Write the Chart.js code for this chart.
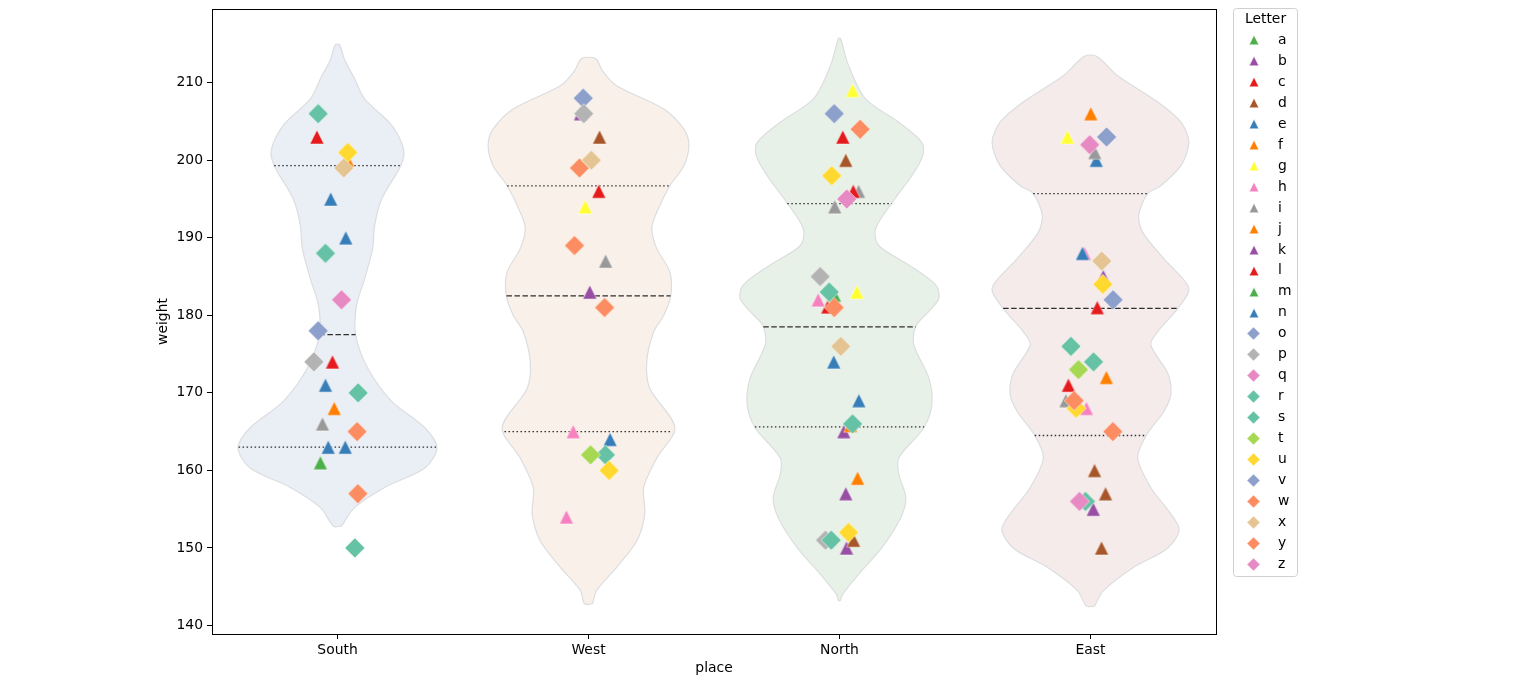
<!DOCTYPE html>
<html>
<head>
<meta charset="utf-8">
<script src="https://cdn.jsdelivr.net/npm/chart.js@4.4.0/dist/chart.umd.min.js"></script>
<style>
  html, body { margin: 0; padding: 0; background: #fff; }
</style>
</head>
<body>
<canvas id="violinChart" width="1531" height="677"></canvas>
<script>
const places = ['South', 'West', 'North', 'East'];
const letters = 'abcdefghijklmnopqrstuvwxyz'.split('');
const yTicks = [140, 150, 160, 170, 180, 190, 200, 210];

// strip points per place: letter, weight, horizontal jitter (category units)
const southLetters = ['r', 'c', 'u', 'f', 'x', 'e', 'n', 's', 'q', 'o', 'p', 'l', 'e', 'r', 'j', 'i', 'w', 'n', 'e', 'a', 'y', 's'];
const southWeights = [206, 203, 201, 200, 199, 195, 190, 188, 182, 178, 174, 174, 171, 170, 168, 166, 165, 163, 163, 161, 157, 150];
const southJitter = [-0.077, -0.082, 0.041, 0.040, 0.025, -0.027, 0.033, -0.048, 0.016, -0.077, -0.094, -0.020, -0.048, 0.082, -0.013, -0.060, 0.078, -0.037, 0.031, -0.068, 0.081, 0.069];

const westLetters = ['o', 'k', 'p', 'd', 'x', 'w', 'c', 'g', 'y', 'i', 'b', 'w', 'h', 'e', 't', 's', 'u', 'h'];
const westWeights = [208, 206, 206, 203, 200, 199, 196, 194, 189, 187, 183, 181, 165, 164, 162, 162, 160, 154];
const westJitter = [-0.021, -0.032, -0.019, 0.044, 0.011, -0.036, 0.041, -0.013, -0.056, 0.068, 0.005, 0.064, -0.061, 0.086, 0.008, 0.067, 0.082, -0.088];

const northLetters = ['g', 'v', 'w', 'c', 'd', 'u', 'i', 'l', 'z', 'i', 'p', 's', 'm', 'g', 'h', 'c', 'y', 'x', 'e', 'n', 'j', 'r', 'b', 'f', 'k', 'u', 'p', 'r', 'd', 'b'];
const northWeights = [209, 206, 204, 203, 200, 198, 196, 196, 195, 194, 185, 183, 182.6, 183, 182, 181.1, 181, 176, 174, 169, 165.8, 166, 165, 159, 157, 152, 151, 151, 151, 150];
const northJitter = [0.052, -0.021, 0.082, 0.013, 0.025, -0.031, 0.076, 0.055, 0.029, -0.019, -0.077, -0.041, -0.020, 0.069, -0.085, -0.047, -0.021, 0.005, -0.023, 0.077, 0.044, 0.052, 0.017, 0.072, 0.025, 0.036, -0.056, -0.033, 0.056, 0.028];

const eastLetters = ['f', 'g', 'v', 'i', 'q', 'e', 'h', 'n', 'x', 'k', 'u', 'o', 'l', 'r', 's', 't', 'j', 'c', 'i', 'u', 'w', 'h', 'y', 'd', 'd', 'z', 's', 'b', 'd'];
const eastWeights = [206, 203, 203, 201, 202, 200, 188, 188, 187, 185, 184, 182, 181, 176, 174, 173, 172, 171, 169, 168, 169, 168, 165, 160, 157, 156, 156, 155, 150];
const eastJitter = [0.001, -0.092, 0.064, 0.017, -0.003, 0.023, -0.024, -0.032, 0.045, 0.051, 0.049, 0.090, 0.027, -0.078, 0.012, -0.048, 0.063, -0.088, -0.098, -0.057, -0.065, -0.016, 0.089, 0.016, 0.060, -0.044, -0.020, 0.011, 0.044];

// violin outlines: weight levels and relative half-width (1 = widest)
const southLevels = [152.8, 155.2, 157.8, 160.3, 162.9, 165.5, 168.9, 173.2, 177.5, 181.3, 184.7, 188.6, 191.6, 195.0, 199.3, 201.3, 204.5, 207.9, 210.5, 213.0, 214.9];
const southDensity = [0.04, 0.17, 0.47, 0.87, 0.99, 0.87, 0.54, 0.30, 0.18, 0.19, 0.27, 0.35, 0.37, 0.44, 0.63, 0.66, 0.54, 0.27, 0.17, 0.07, 0.02];

const westLevels = [142.8, 144.5, 147.5, 150.9, 154.3, 157.8, 161.6, 165.5, 170.6, 174.0, 177.9, 180.0, 182.6, 185.6, 188.6, 191.2, 193.3, 196.7, 199.3, 201.9, 204.0, 206.6, 209.6, 211.5, 213.1];
const westDensity = [0.04, 0.08, 0.28, 0.48, 0.56, 0.55, 0.68, 0.86, 0.61, 0.58, 0.65, 0.75, 0.82, 0.81, 0.68, 0.63, 0.68, 0.81, 0.95, 1.00, 0.95, 0.75, 0.28, 0.14, 0.07];

const northLevels = [143.2, 144.0, 146.6, 150.0, 153.9, 156.5, 159.5, 161.6, 165.5, 168.5, 171.9, 176.2, 178.6, 180.5, 182.2, 183.9, 186.5, 189.0, 191.2, 195.0, 198.0, 200.6, 202.3, 204.9, 207.9, 212.2, 215.7];
const northDensity = [0.01, 0.03, 0.19, 0.42, 0.61, 0.66, 0.59, 0.59, 0.84, 0.92, 0.89, 0.74, 0.76, 0.89, 0.99, 0.96, 0.69, 0.39, 0.36, 0.55, 0.72, 0.83, 0.82, 0.59, 0.26, 0.09, 0.01];

const eastLevels = [142.5, 144.5, 147.5, 150.0, 152.6, 157.8, 161.6, 164.4, 167.6, 169.8, 172.5, 176.2, 177.9, 180.9, 183.5, 187.3, 190.7, 192.9, 195.7, 196.7, 199.3, 202.3, 204.9, 207.5, 210.9, 213.4];
const eastDensity = [0.04, 0.13, 0.43, 0.77, 0.88, 0.60, 0.47, 0.55, 0.73, 0.80, 0.77, 0.60, 0.67, 0.87, 0.98, 0.73, 0.52, 0.48, 0.57, 0.70, 0.90, 0.98, 0.90, 0.67, 0.27, 0.06];

// quartiles [q1, median, q3]
const southQuartiles = [163.0, 177.5, 199.3];
const westQuartiles = [165.0, 182.5, 196.7];
const northQuartiles = [165.6, 178.5, 194.4];
const eastQuartiles = [164.5, 180.9, 195.7];

const pointSets = [
  {letters: southLetters, weights: southWeights, jitter: southJitter},
  {letters: westLetters, weights: westWeights, jitter: westJitter},
  {letters: northLetters, weights: northWeights, jitter: northJitter},
  {letters: eastLetters, weights: eastWeights, jitter: eastJitter}
];
const profiles = [
  {levels: southLevels, density: southDensity, quartiles: southQuartiles},
  {levels: westLevels, density: westDensity, quartiles: westQuartiles},
  {levels: northLevels, density: northDensity, quartiles: northQuartiles},
  {levels: eastLevels, density: eastDensity, quartiles: eastQuartiles}
];

const letterColors = {
  a: '#4daf4a', b: '#984ea3', c: '#e41a1c', d: '#a65628', e: '#377eb8', f: '#ff7f00', g: '#ffff33',
  h: '#f781bf', i: '#999999', j: '#ff7f00', k: '#984ea3', l: '#e41a1c', m: '#4daf4a', n: '#377eb8',
  o: '#8da0cb', p: '#b3b3b3', q: '#e78ac3', r: '#66c2a5', s: '#66c2a5', t: '#a6d854', u: '#ffd92f',
  v: '#8da0cb', w: '#fc8d62', x: '#e5c494', y: '#fc8d62', z: '#e78ac3'
};
const violinFills = ['#eaeff5', '#f9f1e9', '#e8f1e7', '#f5ebeb'];
const HALF = 0.4;
const font = {family: 'DejaVu Sans', size: 13.9};

function makeMarker(shape, color, size) {
  const s = Math.ceil(size) + 2;
  const c = document.createElement('canvas');
  c.width = s; c.height = s;
  const g = c.getContext('2d');
  const m = s / 2, h = size / 2;
  g.beginPath();
  if (shape === 'tri') {
    g.moveTo(m, m - h); g.lineTo(m + h, m + h); g.lineTo(m - h, m + h);
  } else {
    g.moveTo(m, m - h); g.lineTo(m + h, m); g.lineTo(m, m + h); g.lineTo(m - h, m);
  }
  g.closePath();
  g.fillStyle = color;
  g.fill();
  g.lineWidth = 0.7;
  g.strokeStyle = 'rgba(255,255,255,0.7)';
  g.stroke();
  return c;
}

const isTri = l => l <= 'n';
const plotMarkers = {}, legendMarkers = {};
letters.forEach(l => {
  plotMarkers[l] = makeMarker(isTri(l) ? 'tri' : 'dia', letterColors[l], isTri(l) ? 14 : 20);
  legendMarkers[l] = makeMarker(isTri(l) ? 'tri' : 'dia', letterColors[l], isTri(l) ? 9.5 : 13);
});

function halfWidthAt(prof, v) {
  const L = prof.levels, D = prof.density;
  for (let i = 1; i < L.length; i++) {
    if (v <= L[i]) {
      const t = (v - L[i - 1]) / (L[i] - L[i - 1]);
      return (D[i - 1] + t * (D[i] - D[i - 1])) * HALF;
    }
  }
  return 0;
}

const datasets = [];

profiles.forEach((prof, p) => {
  const right = prof.levels.map((v, i) => ({x: p + prof.density[i] * HALF, y: v}));
  const left = prof.levels.map((v, i) => ({x: p - prof.density[i] * HALF, y: v})).reverse();
  datasets.push({
    type: 'line', data: right.concat(left, [right[0]]),
    fill: 'shape', backgroundColor: violinFills[p],
    borderColor: '#dcdde0', borderWidth: 1.2,
    pointRadius: 0, tension: 0.3, order: 100
  });
  prof.quartiles.forEach((q, k) => {
    const w = halfWidthAt(prof, q);
    datasets.push({
      type: 'line', data: [{x: p - w, y: q}, {x: p + w, y: q}],
      borderColor: '#2e2e2e', borderWidth: 1.3,
      borderDash: k === 1 ? [5.5, 2.5] : [1.5, 2.5],
      pointRadius: 0, fill: false, order: 90
    });
  });
});

letters.forEach((letter, i) => {
  const data = [];
  pointSets.forEach((ps, p) => {
    ps.letters.forEach((l, k) => {
      if (l === letter) data.push({x: p + ps.jitter[k], y: ps.weights[k]});
    });
  });
  datasets.push({
    type: 'scatter', label: letter, data,
    pointStyle: plotMarkers[letter], pointRadius: 8,
    order: 50 - i
  });
});

const frame = {
  id: 'frame',
  afterDatasetsDraw(chart) {
    const {ctx, chartArea: a} = chart;
    ctx.save();
    ctx.strokeStyle = '#000';
    ctx.lineWidth = 1;
    ctx.strokeRect(Math.round(a.left) + 0.5, Math.round(a.top) + 0.5,
      Math.round(a.right - a.left), Math.round(a.bottom - a.top));
    ctx.restore();
  }
};

const letterLegend = {
  id: 'letterLegend',
  afterDraw(chart) {
    const ctx = chart.ctx;
    const bx = 1233.5, by = 8.5, bw = 64, bh = 568, r = 3;
    ctx.save();
    ctx.beginPath();
    ctx.moveTo(bx + r, by);
    ctx.arcTo(bx + bw, by, bx + bw, by + bh, r);
    ctx.arcTo(bx + bw, by + bh, bx, by + bh, r);
    ctx.arcTo(bx, by + bh, bx, by, r);
    ctx.arcTo(bx, by, bx + bw, by, r);
    ctx.closePath();
    ctx.fillStyle = 'rgba(255,255,255,0.8)';
    ctx.fill();
    ctx.strokeStyle = '#d0d0d0';
    ctx.lineWidth = 1;
    ctx.stroke();
    ctx.fillStyle = '#000';
    ctx.font = '13.9px "DejaVu Sans"';
    ctx.textBaseline = 'middle';
    ctx.textAlign = 'center';
    ctx.fillText('Letter', 1265.5, 19.5);
    ctx.textAlign = 'left';
    letters.forEach((l, i) => {
      const y = 40.3 + i * 20.96;
      const m = legendMarkers[l];
      ctx.drawImage(m, Math.round(1253.7 - m.width / 2), Math.round(y - m.height / 2));
      ctx.fillText(l, 1278, y);
    });
    ctx.restore();
  }
};

new Chart(document.getElementById('violinChart'), {
  type: 'scatter',
  data: {datasets},
  plugins: [frame, letterLegend],
  options: {
    responsive: false,
    devicePixelRatio: 1,
    animation: false,
    layout: {padding: {left: 150, right: 315, top: 7, bottom: 0}},
    plugins: {
      legend: {display: false},
      tooltip: {enabled: false}
    },
    scales: {
      x: {
        type: 'linear', min: -0.5, max: 3.5,
        afterBuildTicks: s => { s.ticks = places.map((_, i) => ({value: i})); },
        afterFit: s => { s.height = 43; s.paddingLeft = 0; s.paddingRight = 0; },
        ticks: {callback: v => places[v], font, color: '#000', padding: 3, autoSkip: false, maxRotation: 0},
        grid: {display: true, drawOnChartArea: false, drawTicks: true, tickLength: 5, color: '#000'},
        border: {display: false},
        title: {display: true, text: 'place', font, color: '#000', padding: {top: 2, bottom: 0}}
      },
      y: {
        type: 'linear', min: 138.9, max: 219.5,
        afterBuildTicks: s => { s.ticks = yTicks.map(v => ({value: v})); },
        afterFit: s => { s.width = 62; s.paddingTop = 0; s.paddingBottom = 0; },
        ticks: {font, color: '#000', padding: 4},
        grid: {display: true, drawOnChartArea: false, drawTicks: true, tickLength: 5, color: '#000'},
        border: {display: false},
        title: {display: true, text: 'weight', font, color: '#000', padding: {top: 5, bottom: 0}}
      }
    }
  }
});
</script>
</body>
</html>
